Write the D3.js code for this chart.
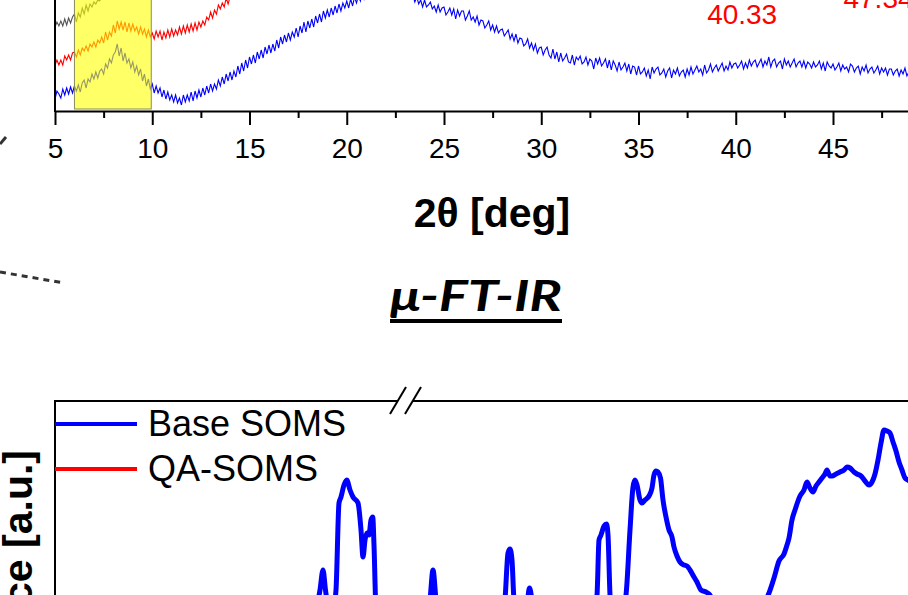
<!DOCTYPE html>
<html>
<head>
<meta charset="utf-8">
<script src="https://cdn.jsdelivr.net/npm/d3@7"></script>
<style>
body { margin: 0; background: #fff; }
svg { display: block; font-family: "Liberation Sans", Arial, sans-serif; }
</style>
</head>
<body>
<div class="view"></div>
<script>
var width = 908;
var height = 595;

// ---- XRD data (2theta from 5 deg, 0.1 deg step, intensity a.u.) ----
var xrdStart = 5;
var xrdStep = 0.1;

var xrdBlue = [
    12, 20, 17, 13, 22, 16, 23, 17, 24, 18,
    25, 20, 26, 19, 28, 31, 23, 32, 29, 37,
    32, 39, 33, 40, 42, 37, 47, 43, 52, 48,
    56, 59, 67, 55, 63, 50, 58, 48, 52, 43,
    49, 39, 45, 36, 42, 30, 37, 25, 32, 22,
    27, 18, 25, 18, 23, 14, 21, 12, 19, 11,
    16, 9, 16, 8, 13, 6, 16, 9, 16, 10,
    19, 10, 20, 13, 21, 14, 23, 16, 25, 18,
    27, 20, 27, 22, 31, 25, 34, 27, 37, 30,
    39, 31, 40, 34, 45, 37, 48, 40, 51, 43,
    54, 47, 56, 48, 59, 52, 61, 53, 64, 57,
    66, 58, 67, 60, 71, 63, 74, 67, 76, 69,
    78, 71, 79, 74, 83, 74, 85, 78, 89, 79,
    90, 83, 92, 84, 95, 88, 97, 89, 100, 93,
    101, 94, 103, 96, 105, 98, 107, 100, 108, 103,
    110, 103, 112, 105, 114, 108, 115, 110, 119, 111,
    119, 116, 121, 119, 125, 122, 127, 124, 129, 126,
    130, 127, 132, 129, 133, 130, 132, 128, 129, 125,
    129, 120, 123, 113, 116, 109, 114, 107, 111, 104,
    111, 104, 106, 109, 102, 105, 99, 106, 99, 103,
    104, 96, 99, 103, 96, 102, 92, 101, 95, 100,
    100, 91, 95, 100, 91, 94, 89, 95, 86, 91,
    90, 83, 86, 90, 81, 86, 79, 85, 78, 81,
    82, 75, 78, 81, 72, 77, 70, 77, 68, 73,
    72, 65, 67, 72, 63, 68, 61, 67, 58, 63,
    64, 56, 61, 64, 56, 53, 62, 52, 59, 49,
    58, 50, 53, 57, 49, 48, 56, 46, 54, 51,
    55, 47, 49, 54, 46, 52, 50, 42, 53, 47,
    53, 45, 48, 52, 43, 51, 41, 50, 46, 40,
    49, 41, 44, 48, 40, 47, 37, 45, 44, 36,
    45, 37, 39, 43, 35, 41, 32, 44, 38, 42,
    44, 36, 38, 42, 34, 40, 43, 33, 41, 37,
    43, 35, 39, 41, 34, 42, 36, 44, 37, 41,
    45, 39, 42, 36, 46, 38, 41, 47, 39, 43,
    46, 40, 44, 48, 40, 45, 41, 49, 43, 47,
    48, 43, 46, 50, 42, 48, 43, 51, 45, 49,
    51, 44, 48, 52, 44, 50, 46, 54, 44, 50,
    52, 44, 48, 50, 42, 52, 46, 50, 44, 48,
    52, 44, 48, 50, 44, 50, 43, 49, 47, 43,
    49, 44, 46, 50, 42, 48, 40, 49, 45, 43,
    47, 41, 44, 48, 40, 46, 42, 44, 39, 47,
    45, 39, 43, 45, 37, 44, 40, 46, 38, 42,
    44, 38, 41, 45, 37, 43, 39, 43, 36, 42,
    42, 36, 40, 42, 35, 41, 37, 43, 35, 39,
    43, 35, 39, 41, 35, 41, 37, 43, 35, 39,
    39
];

var xrdRed = [
    46, 51, 46, 51, 46, 55, 51, 56, 51, 58,
    59, 54, 61, 56, 63, 60, 65, 60, 67, 64,
    69, 64, 71, 68, 74, 68, 79, 71, 79, 75,
    86, 78, 90, 82, 89, 81, 89, 79, 88, 80,
    87, 80, 84, 77, 84, 77, 82, 74, 81, 74,
    78, 72, 80, 74, 80, 71, 79, 73, 81, 74,
    82, 75, 81, 76, 84, 77, 85, 78, 86, 79,
    87, 80, 88, 81, 89, 84, 90, 86, 94, 91,
    99, 93, 101, 97, 106, 102, 108, 104, 113, 107,
    114, 112, 117, 115, 120, 118, 124, 122, 127, 125
];

var xrdGray = [
    84, 89, 85, 90, 85, 92, 86, 93, 88, 94,
    97, 89, 98, 94, 103, 97, 106, 100, 107, 104,
    109, 107, 111, 110, 114, 112, 116, 115, 119, 118
];

var xrdTicks = [5, 10, 15, 20, 25, 30, 35, 40, 45, 50];
var xrdMinorTicks = [7.5, 12.5, 17.5, 22.5, 27.5, 32.5, 37.5, 42.5, 47.5];
var highlightRange = [6, 10];
var peakLabels = ["40.33", "47.34"];
var peakPositions = [40.33, 47.34];

// ---- FT-IR data [wavenumber cm-1, absorbance a.u.] ----
var irLeftDomain = [4100, 2720];
var irRightDomain = [2000, 800];

var irBaseLeft = [
    [4100, 0.55], [3600, 0.60], [3300, 0.70], [3120, 0.75], [3048, 1.00], [3040, 1.10],
    [3028, 1.30], [3018, 1.10], [3008, 0.95], [2988, 0.90], [2976, 1.10], [2964, 1.97],
    [2956, 2.03], [2944, 2.15], [2933, 2.20], [2920, 2.10], [2908, 2.03], [2888, 1.97],
    [2876, 1.70], [2868, 1.43], [2860, 1.60], [2852, 1.67], [2844, 1.65], [2836, 1.80],
    [2829, 1.83], [2824, 1.55], [2816, 0.90], [2800, 0.70], [2720, 0.60]
];

var irBaseRight = [
    [2000, 0.60], [1970, 0.70], [1960, 1.00], [1954, 1.30], [1948, 1.00], [1940, 0.70],
    [1880, 0.60], [1820, 0.70], [1810, 1.00], [1804, 1.47], [1800, 1.51], [1796, 1.40],
    [1792, 1.00], [1780, 0.75], [1766, 0.95], [1761, 1.12], [1756, 1.00], [1748, 0.75],
    [1700, 0.60], [1640, 0.70], [1626, 1.05], [1622, 1.60], [1618, 1.65], [1612, 1.74],
    [1607, 1.76], [1604, 1.65], [1600, 1.05], [1594, 0.75], [1580, 0.80], [1568, 1.05],
    [1560, 1.70], [1554, 2.13], [1550, 2.20], [1546, 2.15], [1540, 2.00], [1536, 1.97],
    [1530, 2.00], [1522, 2.04], [1516, 2.12], [1512, 2.25], [1508, 2.29], [1504, 2.28],
    [1499, 2.22], [1494, 2.00], [1488, 1.83], [1482, 1.70], [1476, 1.63], [1472, 1.53],
    [1466, 1.44], [1460, 1.38], [1452, 1.35], [1446, 1.34], [1440, 1.30], [1432, 1.23],
    [1426, 1.18], [1418, 1.10], [1408, 1.08], [1402, 1.06], [1394, 1.00], [1380, 0.90],
    [1340, 0.80], [1300, 0.85], [1288, 1.00], [1282, 1.07], [1272, 1.22], [1262, 1.39],
    [1252, 1.46], [1246, 1.55], [1242, 1.62], [1236, 1.80], [1230, 1.90], [1220, 2.04],
    [1212, 2.10], [1206, 2.18], [1200, 2.12], [1194, 2.08], [1188, 2.14], [1182, 2.18],
    [1176, 2.22], [1170, 2.26], [1166, 2.30], [1160, 2.24], [1156, 2.24], [1148, 2.26],
    [1140, 2.28], [1132, 2.30], [1126, 2.33], [1120, 2.32], [1112, 2.28], [1106, 2.26],
    [1098, 2.24], [1090, 2.19], [1082, 2.15], [1076, 2.18], [1070, 2.26], [1064, 2.40],
    [1058, 2.57], [1052, 2.70], [1046, 2.69], [1040, 2.67], [1034, 2.58], [1028, 2.49],
    [1022, 2.38], [1016, 2.30], [1010, 2.22], [1004, 2.20], [980, 2.05]
];

var legendNames = ["Base SOMS", "QA-SOMS"];
var legendColors = ["#0000ff", "#ff0000"];

// ---------------------------------------------------------------
var svg = d3.select(".view")
    .append("svg")
    .attr("width", width)
    .attr("height", height)
    .style("overflow", "hidden");

// ---- top panel: XRD ----
var x = d3.scaleLinear()
    .domain([5, 50])
    .range([55, 930.25]);

var y = d3.scaleLinear()
    .domain([0, 111])
    .range([111, 0]);

var xrdLine = d3.line()
    .x(function (d, i) { return x(xrdStart + i * xrdStep); })
    .y(function (d) { return y(d); });

var xrd = svg.append("g").attr("class", "xrd");

xrd.append("path")
    .datum(xrdGray)
    .attr("fill", "none")
    .attr("stroke", "#555555")
    .attr("stroke-width", 1.1)
    .attr("d", xrdLine);

xrd.append("path")
    .datum(xrdRed)
    .attr("fill", "none")
    .attr("stroke", "#ff0000")
    .attr("stroke-width", 1.1)
    .attr("d", xrdLine);

xrd.append("path")
    .datum(xrdBlue)
    .attr("fill", "none")
    .attr("stroke", "#0000ff")
    .attr("stroke-width", 1.1)
    .attr("d", xrdLine);

// yellow highlight over the low-angle peak
xrd.append("rect")
    .attr("x", x(highlightRange[0]))
    .attr("y", -20)
    .attr("width", x(highlightRange[1]) - x(highlightRange[0]) - 1)
    .attr("height", y(2) + 20)
    .attr("fill", "#ffff00")
    .attr("fill-opacity", 0.6)
    .attr("stroke", "#8a8a5c")
    .attr("stroke-width", 1);

xrd.selectAll(".peak")
    .data(peakLabels)
    .enter().append("text")
    .attr("class", "peak")
    .attr("x", function (d, i) { return x(peakPositions[i]); })
    .attr("y", function (d, i) { return i == 0 ? 24 : 8; })
    .attr("text-anchor", "middle")
    .attr("fill", "#ff0000")
    .attr("font-size", 28)
    .text(function (d) { return d; });

var xAxis = xrd.append("g")
    .attr("transform", "translate(0," + y(0) + ")")
    .call(d3.axisBottom(x)
        .tickValues(xrdTicks)
        .tickSize(14)
        .tickPadding(13)
        .tickSizeOuter(0));

xAxis.select(".domain").attr("stroke-width", 2);
xAxis.selectAll(".tick line").attr("stroke-width", 2);
xAxis.selectAll(".tick text")
    .attr("font-size", 28)
    .attr("font-family", "Liberation Sans, Arial, sans-serif")
    .attr("fill", "#000");

var xMinor = xrd.append("g")
    .attr("transform", "translate(0," + y(0) + ")")
    .call(d3.axisBottom(x)
        .tickValues(xrdMinorTicks)
        .tickSize(7)
        .tickFormat(""));
xMinor.select(".domain").remove();
xMinor.selectAll(".tick line").attr("stroke-width", 2);

xrd.append("line")
    .attr("x1", x(5)).attr("x2", x(5))
    .attr("y1", -10).attr("y2", y(0) + 1)
    .attr("stroke", "#000")
    .attr("stroke-width", 2);

xrd.append("text")
    .attr("x", 492)
    .attr("y", 227)
    .attr("text-anchor", "middle")
    .attr("font-size", 41)
    .attr("font-weight", "bold")
    .text("2\u03b8 [deg]");

// stray dashed connectors from the neighbouring panel
svg.append("line")
    .attr("x1", 0).attr("y1", 272)
    .attr("x2", 64).attr("y2", 283)
    .attr("stroke", "#333")
    .attr("stroke-width", 3)
    .attr("stroke-dasharray", "6,5");
svg.append("line")
    .attr("x1", 0).attr("y1", 144)
    .attr("x2", 6).attr("y2", 137)
    .attr("stroke", "#333")
    .attr("stroke-width", 3);

// ---- title ----
var title = svg.append("text")
    .attr("x", 476)
    .attr("y", 311)
    .attr("text-anchor", "middle")
    .attr("font-family", "Lato, 'Open Sans', sans-serif")
    .attr("font-size", 42)
    .attr("font-weight", "bold")
    .attr("font-style", "italic")
    .attr("textLength", 172)
    .attr("lengthAdjust", "spacingAndGlyphs")
    .text("\u03bc-FT-IR");
var tb = title.node().getBBox();
svg.append("line")
    .attr("x1", tb.x).attr("x2", tb.x + tb.width)
    .attr("y1", 321).attr("y2", 321)
    .attr("stroke", "#000")
    .attr("stroke-width", 4);

// ---- bottom panel: FT-IR ----
var xIrL = d3.scaleLinear().domain(irLeftDomain).range([55, 400]);
var xIrR = d3.scaleLinear().domain(irRightDomain).range([410, 1010]);
var yIr = d3.scaleLinear().domain([0, 3]).range([700, 400]);

function irLine(sx) {
    return d3.line()
        .x(function (d) { return sx(d[0]); })
        .y(function (d) { return yIr(d[1]); })
        .curve(d3.curveMonotoneX);
}

var ir = svg.append("g").attr("class", "ftir");

ir.append("path")
    .datum(irBaseLeft)
    .attr("fill", "none")
    .attr("stroke", "#0000ff")
    .attr("stroke-width", 5)
    .attr("stroke-linejoin", "round")
    .attr("d", irLine(xIrL));

ir.append("path")
    .datum(irBaseRight)
    .attr("fill", "none")
    .attr("stroke", "#0000ff")
    .attr("stroke-width", 5)
    .attr("stroke-linejoin", "round")
    .attr("d", irLine(xIrR));

// frame with axis break
var frameTop = 401;
ir.append("line")
    .attr("x1", 55).attr("x2", 398)
    .attr("y1", frameTop).attr("y2", frameTop)
    .attr("stroke", "#000").attr("stroke-width", 2);
ir.append("line")
    .attr("x1", 413).attr("x2", 930)
    .attr("y1", frameTop).attr("y2", frameTop)
    .attr("stroke", "#000").attr("stroke-width", 2);
[-7.5, 7.5].forEach(function (o) {
    ir.append("line")
        .attr("x1", 397.5 + o).attr("y1", frameTop + 13)
        .attr("x2", 413.5 + o).attr("y2", frameTop - 14)
        .attr("stroke", "#000").attr("stroke-width", 2);
});
ir.append("line")
    .attr("x1", 55).attr("x2", 55)
    .attr("y1", frameTop - 1).attr("y2", height + 10)
    .attr("stroke", "#000").attr("stroke-width", 2);

// legend
var legend = ir.selectAll(".legend")
    .data(legendNames)
    .enter().append("g")
    .attr("class", "legend")
    .attr("transform", function (d, i) { return "translate(0," + (424 + i * 45) + ")"; });
legend.append("line")
    .attr("x1", 55).attr("x2", 137)
    .attr("stroke", function (d, i) { return legendColors[i]; })
    .attr("stroke-width", 4);
legend.append("text")
    .attr("x", 148)
    .attr("y", 12)
    .attr("font-size", 36)
    .text(function (d) { return d; });

ir.append("text")
    .attr("transform", "translate(32,450) rotate(-90)")
    .attr("text-anchor", "end")
    .attr("font-size", 41)
    .attr("font-weight", "bold")
    .text("Absorbance [a.u.]");
</script>
</body>
</html>
